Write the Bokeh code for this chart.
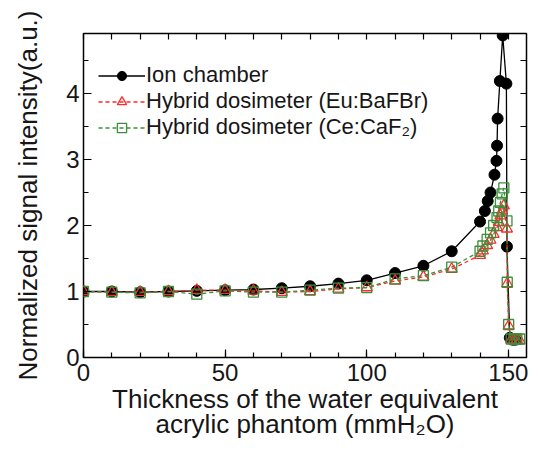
from bokeh.plotting import figure
from bokeh.models import (Range1d, LinearAxis, SingleIntervalTicker, Legend, LegendItem)
from bokeh.embed import file_html
from bokeh.resources import INLINE

# ---- data ----
x_ion = [0, 10, 20, 30, 40, 50, 60, 70, 80, 90, 100, 110, 120, 130, 140, 141.7, 142.7,
         143.7, 145.1, 145.8, 146.0, 146.2, 147.0, 148.0, 149.3, 149.5, 150.5, 151.5, 152.5]
y_ion = [1.0, 1.0, 0.99, 1.0, 1.01, 1.02, 1.03, 1.05, 1.08, 1.12, 1.17, 1.28, 1.39, 1.61,
         2.06, 2.22, 2.37, 2.5, 2.77, 2.98, 3.21, 3.62, 4.19, 4.88, 4.15, 1.68, 0.3, 0.27, 0.27]

x_hyb = [0, 10, 20, 30, 40, 50, 60, 70, 80, 90, 100, 110, 120, 130, 140, 141, 142.5, 143.7,
         144.8, 146, 146.6, 147.2, 147.8, 148.4, 149.5, 149.6, 150.1, 151, 152, 153, 154]
y_eu = [1.0, 0.99, 0.99, 1.0, 1.02, 1.02, 1.01, 0.99, 1.0, 1.04, 1.06, 1.16, 1.22, 1.34,
        1.55, 1.62, 1.7, 1.78, 1.87, 1.97, 2.05, 2.15, 2.22, 2.3, 1.95, 1.12, 0.48, 0.27,
        0.26, 0.26, 0.26]
y_ce = [1.0, 0.99, 0.98, 1.0, 0.96, 1.01, 0.99, 0.99, 1.02, 1.05, 1.06, 1.19, 1.24, 1.37,
        1.61, 1.69, 1.79, 1.89, 2.0, 2.12, 2.22, 2.35, 2.48, 2.57, 2.07, 1.14, 0.5, 0.28,
        0.28, 0.28, 0.28]

labels = ["Ion chamber", "Hybrid dosimeter (Eu:BaFBr)", "Hybrid dosimeter (Ce:CaF\u2082)"]

FONT = "Liberation Sans"
TXT = "#161616"
RED = "#ff2a2a"
GREEN = "#3a8f3a"

p = figure(width=530, height=445, output_backend="svg", toolbar_location=None,
           x_range=Range1d(0, 156.4), y_range=Range1d(0, 4.91),
           min_border_left=83, min_border_right=4, min_border_top=33, min_border_bottom=88)
p.xgrid.visible = False
p.ygrid.visible = False
p.outline_line_color = "black"
p.outline_line_width = 1.5
p.background_fill_color = "white"
p.border_fill_color = "white"

# main axes
xa = p.xaxis[0]
xa.ticker = SingleIntervalTicker(interval=50, num_minor_ticks=5)
ya = p.yaxis[0]
ya.ticker = SingleIntervalTicker(interval=1, num_minor_ticks=2)
for ax in (xa, ya):
    ax.axis_line_color = None
    ax.major_tick_in = 8
    ax.major_tick_out = 0
    ax.minor_tick_in = 5
    ax.minor_tick_out = 0
    ax.major_tick_line_color = "black"
    ax.minor_tick_line_color = "black"
    ax.major_tick_line_width = 1.2
    ax.minor_tick_line_width = 1.2
    ax.major_label_text_font = FONT
    ax.major_label_text_font_size = "24px"
    ax.major_label_text_color = TXT
    ax.axis_label_text_font = FONT
    ax.axis_label_text_font_size = "26px"
    ax.axis_label_text_font_style = "normal"
    ax.axis_label_text_color = TXT
    ax.axis_label_text_line_height = 0.85
xa.major_label_standoff = 6
ya.major_label_standoff = 4
xa.axis_label = "Thickness of the water equivalent\nacrylic phantom (mmH\u2082O)"
xa.axis_label_standoff = 0
ya.axis_label = "Normalized signal intensity(a.u.)"
ya.axis_label_standoff = 20

# mirrored axes (ticks only)
top = LinearAxis(ticker=SingleIntervalTicker(interval=10, num_minor_ticks=0))
right = LinearAxis(ticker=SingleIntervalTicker(interval=0.5, num_minor_ticks=0))
for ax in (top, right):
    ax.axis_line_color = None
    ax.major_tick_in = 6
    ax.major_tick_out = 0
    ax.minor_tick_in = 0
    ax.minor_tick_out = 0
    ax.major_tick_line_width = 1.2
    ax.major_label_text_font_size = "0px"
    ax.major_label_text_color = None
    ax.major_label_standoff = 0
p.add_layout(top, "above")
p.add_layout(right, "right")

# series
l1 = p.line(x_ion, y_ion, line_color="black", line_width=1.3)
m1 = p.scatter(x_ion, y_ion, marker="circle", size=11, fill_color="black", line_color="black")

l2 = p.line(x_hyb, y_eu, line_color=RED, line_width=1.3, line_dash="4 3")
m2 = p.scatter(x_hyb, y_eu, marker="triangle", size=11, fill_color=None, line_color=RED,
               line_width=1.3)

l3 = p.line(x_hyb, y_ce, line_color=GREEN, line_width=1.3, line_dash="4 3")
m3 = p.scatter(x_hyb, y_ce, marker="square", size=10, fill_color=None, line_color=GREEN,
               line_width=1.3)

legend = Legend(items=[LegendItem(label=labels[0], renderers=[l1, m1]),
                       LegendItem(label=labels[1], renderers=[l2, m2]),
                       LegendItem(label=labels[2], renderers=[l3, m3])],
                location=(15, 217), margin=0, padding=0, spacing=0,
                glyph_width=47, glyph_height=23, label_height=23, label_standoff=1,
                label_text_font=FONT, label_text_font_size="22px", label_text_color=TXT,
                label_text_line_height=0.9,
                border_line_color=None, background_fill_alpha=0)
p.add_layout(legend, "center")

open("out.html", "w").write(file_html(p, INLINE))
